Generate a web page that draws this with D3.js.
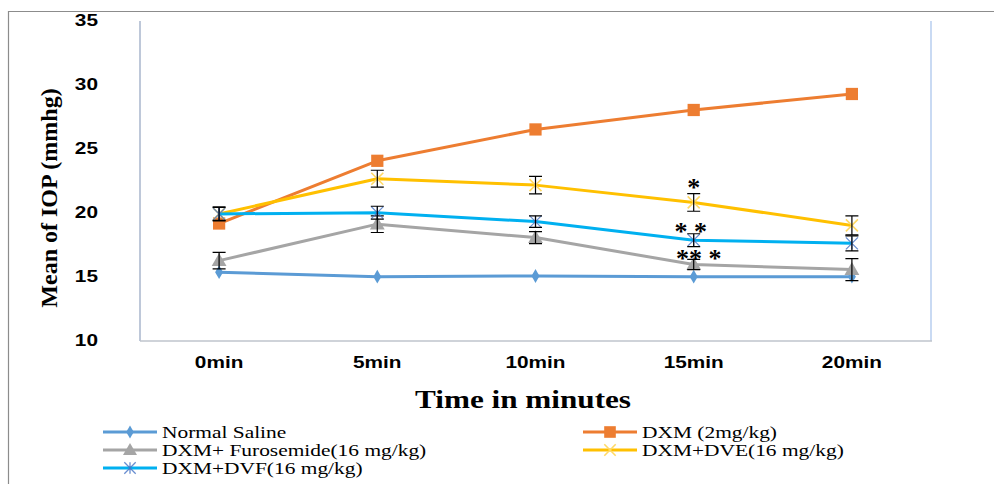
<!DOCTYPE html>
<html><head><meta charset="utf-8">
<script src="https://cdn.jsdelivr.net/npm/d3@7"></script>
<style>body{margin:0;background:#fff}svg{display:block}</style>
</head><body>
<svg id="c" width="994" height="484"></svg>
<script>
// ---------- data ----------
const categories = ["0min", "5min", "10min", "15min", "20min"];
const seriesNames = ["Normal Saline", "DXM (2mg/kg)", "DXM+ Furosemide(16 mg/kg)", "DXM+DVE(16 mg/kg)", "DXM+DVF(16 mg/kg)"];
const normalSaline = [15.3, 14.95, 15.0, 14.95, 14.95];
const dxm = [19.1, 24.0, 26.45, 27.97, 29.22];
const furosemide = [16.2, 19.05, 18.0, 15.9, 15.5];
const dve = [19.85, 22.6, 22.1, 20.75, 18.95];
const dvf = [19.85, 19.95, 19.25, 17.8, 17.55];
const errNormal = [0, 0, 0, 0, 0];
const errDxm = [0, 0, 0, 0, 0];
const errFurosemide = [0.65, 0.65, 0.47, 0.4, 0.86];
const errDve = [0.55, 0.66, 0.68, 0.69, 0.74];
const errDvf = [0.5, 0.5, 0.45, 0.5, 0.59];
const yTicks = [10, 15, 20, 25, 30, 35];
const annotationText = ["*", "* *", "** *"];
const annotationSeries = [3, 4, 2];
const annotationCategory = ["15min", "15min", "15min"];

// ---------- style ----------
const colors = ["#5B9BD5", "#ED7D31", "#A5A5A5", "#FFC000", "#00B0F0"];
const markerColors = ["#5B9BD5", "#ED7D31", "#A5A5A5", "#FFD966", "#4472C4"];
const markerTypes = ["diamond", "square", "triangle", "x", "star"];
const annotationOffsets = [-11, -7, -5];
const annotationDx = [0, -3, 5];

const values = [normalSaline, dxm, furosemide, dve, dvf];
const errors = [errNormal, errDxm, errFurosemide, errDve, errDvf];

const svg = d3.select("#c");
const M = {left: 140, right: 931, top: 20, bottom: 340};

// outer frame
svg.append("line").attr("x1", 8).attr("x2", 994).attr("y1", 11.5).attr("y2", 11.5).attr("stroke", "#8c8c8c").attr("stroke-width", 1.2);
svg.append("line").attr("x1", 8.5).attr("x2", 8.5).attr("y1", 11).attr("y2", 484).attr("stroke", "#8c8c8c").attr("stroke-width", 1.2);

const x = d3.scaleBand().domain(categories).range([M.left, M.right]);
const y = d3.scaleLinear().domain([10, 35]).range([M.bottom, M.top]);
const cx = c => x(c) + x.bandwidth() / 2;

// plot frame
svg.append("line").attr("x1", M.left).attr("x2", M.left).attr("y1", 21).attr("y2", 341).attr("stroke", "#A9B6CC").attr("stroke-width", 1.5);
svg.append("line").attr("x1", M.right).attr("x2", M.right).attr("y1", 21).attr("y2", 341).attr("stroke", "#C9DAF3").attr("stroke-width", 2);
svg.append("line").attr("x1", M.left).attr("x2", M.right + 1).attr("y1", 341).attr("y2", 341).attr("stroke", "#BFC4CC").attr("stroke-width", 1.5);

function stext(g, px, py, txt, font, anchor, sx) {
  return g.append("text")
    .attr("transform", `translate(${px},${py}) scale(${sx},1)`)
    .attr("text-anchor", anchor)
    .style("font", font)
    .attr("fill", "#000")
    .text(txt);
}

// y axis (tick labels only)
const yAxis = d3.axisLeft(y).tickValues(yTicks).tickSize(0).tickPadding(0);
const gy = svg.append("g").attr("transform", "translate(98,0)").call(yAxis);
gy.select(".domain").remove();
gy.selectAll(".tick text").style("font", "bold 16px Arial, 'Liberation Sans', sans-serif").attr("fill", "#000")
  .attr("dy", "0.36em").attr("x", 0).attr("text-anchor", "end").attr("transform", "scale(1.3,1)");

// x axis (labels only)
const xAxis = d3.axisBottom(x).tickSize(0).tickPadding(0);
const gx = svg.append("g").attr("transform", "translate(0,368)").call(xAxis);
gx.select(".domain").remove();
gx.selectAll(".tick text").style("font", "bold 16px Arial, 'Liberation Sans', sans-serif").attr("fill", "#000")
  .attr("dy", 0).attr("y", 0).attr("transform", "scale(1.3,1)");

// axis titles
stext(svg, 523, 408, "Time in minutes", "bold 26px 'Liberation Serif', 'Times New Roman', serif", "middle", 1.2);
svg.append("text")
  .attr("transform", "translate(57,198) rotate(-90)")
  .attr("text-anchor", "middle")
  .style("font", "bold 24px 'Liberation Serif', 'Times New Roman', serif")
  .attr("fill", "#000")
  .text("Mean of IOP (mmhg)");

// marker drawing
function marker(g, type, px, py, col, scale) {
  scale = scale || 1;
  if (type === "diamond") {
    g.append("path").attr("d", d3.symbol(d3.symbolDiamond, 55 * scale)()).attr("transform", `translate(${px},${py})`).attr("fill", col);
  } else if (type === "square") {
    g.append("path").attr("d", d3.symbol(d3.symbolSquare, 150 * scale)()).attr("transform", `translate(${px},${py})`).attr("fill", col);
  } else if (type === "triangle") {
    g.append("path").attr("d", d3.symbol(d3.symbolTriangle, 95 * scale)()).attr("transform", `translate(${px},${py + 1})`).attr("fill", col);
  } else if (type === "x") {
    const r = 6 * Math.sqrt(scale);
    g.append("path").attr("d", `M${-r},${-r}L${r},${r}M${-r},${r}L${r},${-r}`).attr("transform", `translate(${px},${py})`)
      .attr("stroke", col).attr("stroke-width", 1.6).attr("fill", "none");
  } else if (type === "star") {
    const r = 6 * Math.sqrt(scale);
    g.append("path").attr("d", `M${-r},${-r}L${r},${r}M${-r},${r}L${r},${-r}M0,${-r}L0,${r}`).attr("transform", `translate(${px},${py})`)
      .attr("stroke", col).attr("stroke-width", 1.3).attr("fill", "none").attr("opacity", 0.8);
  }
}

const line = d3.line().x((d, i) => cx(categories[i])).y(d => y(d));

values.forEach((vals, s) => {
  const g = svg.append("g");
  g.append("path").datum(vals).attr("d", line).attr("fill", "none").attr("stroke", colors[s]).attr("stroke-width", 3).attr("stroke-linejoin", "round");
  vals.forEach((v, i) => marker(g, markerTypes[s], cx(categories[i]), y(v), markerColors[s]));
  // error bars
  errors[s].forEach((e, i) => {
    if (!e) return;
    const px = cx(categories[i]), y1 = y(vals[i] + e), y2 = y(vals[i] - e);
    g.append("path").attr("d", `M${px},${y1}L${px},${y2}M${px - 6.5},${y1}L${px + 6.5},${y1}M${px - 6.5},${y2}L${px + 6.5},${y2}`)
      .attr("stroke", "#000").attr("stroke-width", 1.2).attr("fill", "none");
  });
});

// significance annotations
annotationText.forEach((t, k) => {
  const s = annotationSeries[k];
  const i = categories.indexOf(annotationCategory[k]);
  const px = cx(annotationCategory[k]) + annotationDx[k];
  const py = y(values[s][i] + errors[s][i]) + annotationOffsets[k];
  svg.append("text").attr("x", px).attr("y", py + 13).attr("text-anchor", "middle")
    .style("font", "bold 26px 'Liberation Serif', 'Times New Roman', serif").attr("fill", "#000").text(t);
});

// legend
const legendX = [103, 583];
const legendY = [432, 450, 468];
seriesNames.forEach((name, s) => {
  const col = s % 2 === 0 ? 0 : 1;
  const row = s % 2 === 0 ? s / 2 : (s - 1) / 2;
  const lx = legendX[col], ly = legendY[row];
  const g = svg.append("g");
  g.append("line").attr("x1", lx).attr("x2", lx + 54).attr("y1", ly).attr("y2", ly).attr("stroke", colors[s]).attr("stroke-width", 3);
  marker(g, markerTypes[s], lx + 27, ly, markerColors[s], 0.9);
  stext(g, lx + 59, ly + 5.5, name, "17px 'Liberation Serif', 'Times New Roman', serif", "start", 1.26);
});
</script>
</body></html>
